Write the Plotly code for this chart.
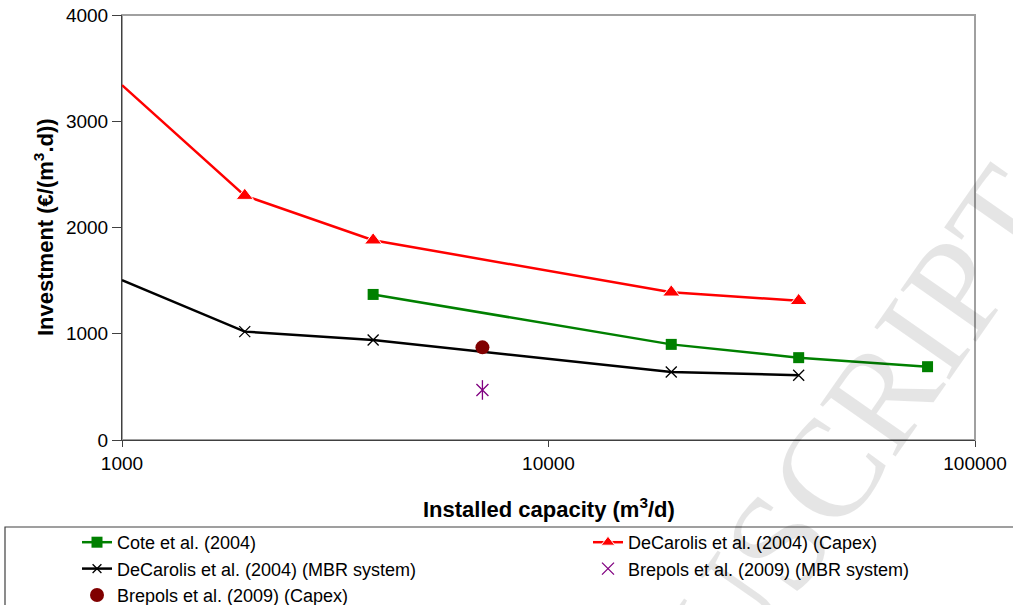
import plotly.graph_objects as go

# ---- data ----
decarolis_x = [1000, 1940, 3880, 19400, 38600]
decarolis_capex = [3340, 2300, 1880, 1390, 1310]
decarolis_mbr = [1505, 1020, 941, 640, 610]

cote_x = [3880, 19400, 38600, 77400]
cote_y = [1370, 900, 775, 690]

brepols_x = [7000]
brepols_mbr = [471]
brepols_capex = [872]

x_ticks = [1000, 10000, 100000]
x_ticktext = ["1000", "10000", "100000"]
y_ticks = [0, 1000, 2000, 3000, 4000]

x_title = "<b>Installed capacity (m<sup>3</sup>/d)</b>"
y_title = "<b>Investment (€/(m<sup>3</sup>.d))</b>"

FONT = "Liberation Sans, Arial, sans-serif"

# the first DeCarolis points sit on the y axis and show no marker
tri_sizes = [0] + [15] * (len(decarolis_x) - 1)
x_sizes = [0] + [11] * (len(decarolis_x) - 1)

fig = go.Figure()

fig.add_trace(go.Scatter(
    x=cote_x, y=cote_y, name="Cote et al. (2004)", mode="lines+markers",
    legend="legend",
    line=dict(color="#008000", width=2.5),
    marker=dict(symbol="square", size=11, color="#008000")))

fig.add_trace(go.Scatter(
    x=decarolis_x, y=decarolis_capex, name="DeCarolis et al. (2004) (Capex)",
    mode="lines+markers", legend="legend2",
    line=dict(color="#ff0000", width=2.5),
    marker=dict(symbol="triangle-up", size=tri_sizes, color="#ff0000",
                opacity=1)))

fig.add_trace(go.Scatter(
    x=decarolis_x, y=decarolis_mbr, name="DeCarolis et al. (2004) (MBR system)",
    mode="lines+markers", legend="legend",
    line=dict(color="#000000", width=2.5),
    marker=dict(symbol="x-thin-open", size=x_sizes, color="#000000",
                opacity=1, line=dict(color="#000000", width=1.3))))

fig.add_trace(go.Scatter(
    x=brepols_x, y=brepols_mbr, name="Brepols et al. (2009) (MBR system)",
    mode="markers", legend="legend2",
    marker=dict(symbol="x-thin-open", size=12, color="#800080",
                line=dict(color="#800080", width=1.3))))
fig.add_trace(go.Scatter(
    x=brepols_x, y=brepols_mbr, showlegend=False, mode="markers",
    hoverinfo="skip",
    marker=dict(symbol="line-ns-open", size=14, color="#800080",
                line=dict(color="#800080", width=1.3))))

fig.add_trace(go.Scatter(
    x=brepols_x, y=brepols_capex, name="Brepols et al. (2009) (Capex)",
    mode="markers", legend="legend",
    marker=dict(symbol="circle", size=14, color="#800000")))

axis_col = "#404040"
fig.update_xaxes(
    type="log", range=[3, 5], tickvals=x_ticks, ticktext=x_ticktext,
    ticks="outside", ticklen=6, tickcolor=axis_col, showgrid=False,
    showline=True, linecolor=axis_col, linewidth=1, zeroline=False,
    automargin=False,
    tickfont=dict(family=FONT, size=19, color="#000000"))
fig.update_yaxes(
    range=[0, 4000], tickvals=y_ticks, ticks="outside", ticklen=9,
    tickcolor=axis_col, showgrid=False, showline=True, linecolor=axis_col,
    linewidth=1, zeroline=False, automargin=False,
    tickfont=dict(family=FONT, size=19, color="#000000"))

legend_common = dict(
    orientation="v", xref="container", yref="container",
    xanchor="left", yanchor="top", y=1 - 524 / 605,
    font=dict(family=FONT, size=18, color="#000000"),
    bgcolor="rgba(0,0,0,0)", itemwidth=30, traceorder="normal")

fig.update_layout(
    width=1013, height=605,
    margin=dict(l=122, r=38, t=15, b=165, autoexpand=False),
    plot_bgcolor="white", paper_bgcolor="white",
    font=dict(family=FONT, color="#000000"),
    showlegend=True,
    legend=dict(x=77 / 1013, **legend_common),
    legend2=dict(x=588 / 1013, **legend_common),
    shapes=[
        dict(type="rect", xref="paper", yref="paper", x0=0, x1=1, y0=0, y1=1,
             line=dict(color="#a0a0a0", width=2), layer="below"),
        dict(type="rect", xref="paper", yref="paper",
             x0=(5 - 122) / 853, x1=(1020 - 122) / 853,
             y0=(440 - 527) / 425, y1=(440 - 612) / 425,
             line=dict(color="#404040", width=1.2)),
    ],
    annotations=[
        dict(text="ACCEPTED MANUSCRIPT", xref="paper", yref="paper",
             x=(551 - 122) / 853, y=(440 - 865) / 425, showarrow=False,
             xanchor="center", yanchor="middle", textangle=-55,
             font=dict(family="Liberation Serif, Times New Roman, serif",
                       size=140, color="rgba(0,0,0,0.10)")),
        dict(text=x_title, xref="paper", yref="paper",
             x=(549 - 122) / 853, y=(440 - 508) / 425, showarrow=False,
             xanchor="center", yanchor="middle",
             font=dict(family=FONT, size=22, color="#000000")),
        dict(text=y_title, xref="paper", yref="paper",
             x=(44 - 122) / 853, y=(440 - 227) / 425, showarrow=False,
             xanchor="center", yanchor="middle", textangle=-90,
             font=dict(family=FONT, size=22, color="#000000")),
    ],
)

fig.write_html("out.html")
